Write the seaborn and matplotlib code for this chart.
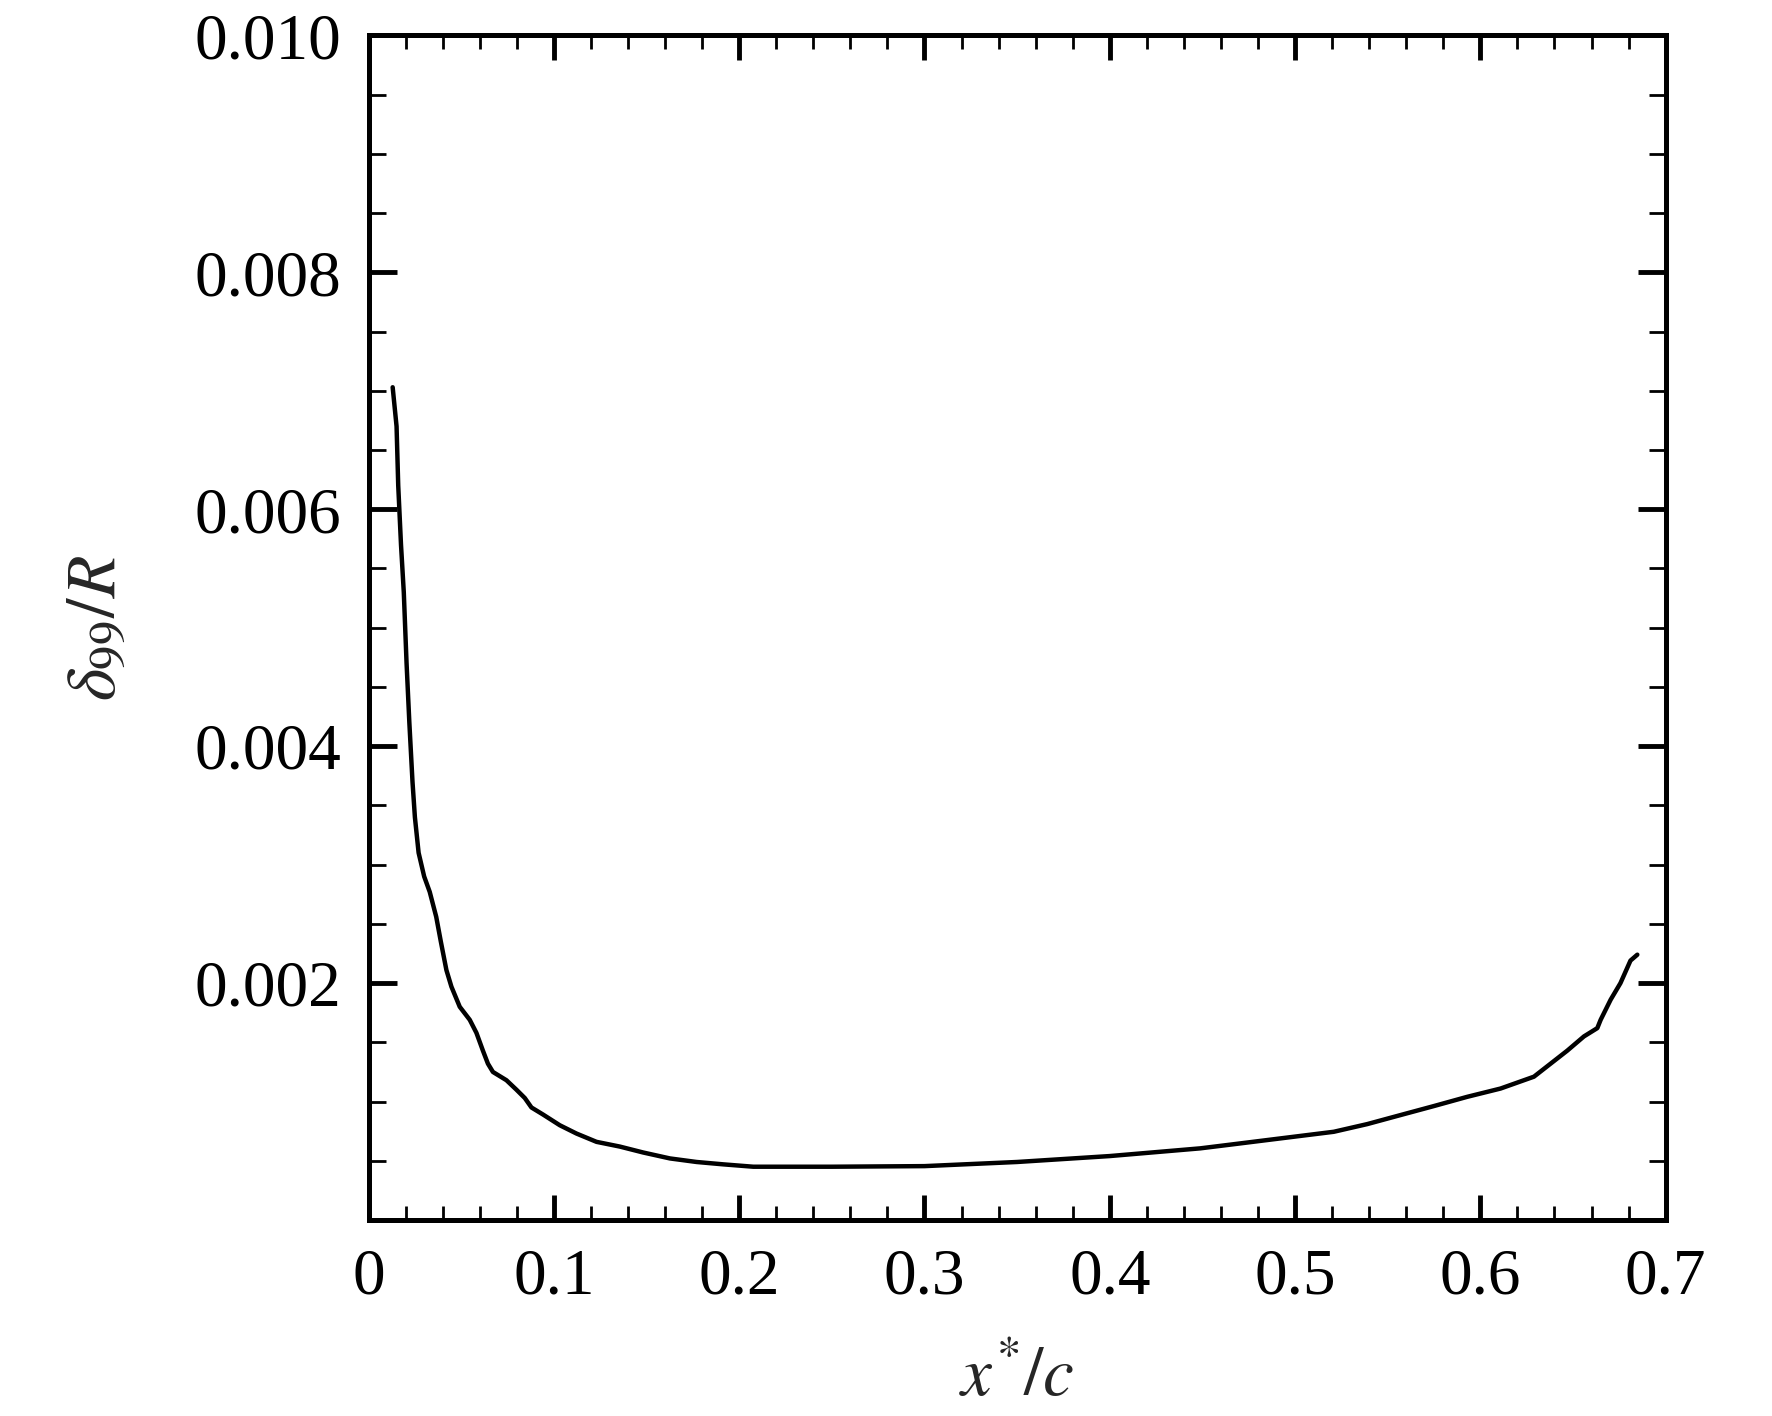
import numpy as np
import pandas as pd
import matplotlib
matplotlib.use("Agg")
import matplotlib.pyplot as plt
import seaborn as sns
from matplotlib.ticker import MultipleLocator, FuncFormatter

# dados (espessura da camada limite ao longo da corda)
x_c = [0.0130, 0.0151, 0.0160, 0.0175, 0.0190, 0.0205, 0.0220, 0.0237,
       0.0250, 0.0270, 0.0300, 0.0330, 0.0365, 0.0390, 0.0420, 0.0447,
       0.0492, 0.0546, 0.0582, 0.0617, 0.0644, 0.0671, 0.0744, 0.0798,
       0.0843, 0.0879, 0.0942, 0.1032, 0.1122, 0.1230, 0.1356, 0.1482,
       0.1626, 0.1770, 0.1914, 0.2076, 0.2500, 0.3000, 0.3500, 0.4000,
       0.4488, 0.4633, 0.4849, 0.5029, 0.5209, 0.5390, 0.5569, 0.5749,
       0.5929, 0.6109, 0.6289, 0.6379, 0.6469, 0.6559, 0.6631, 0.6649,
       0.6703, 0.6756, 0.6810, 0.6847]
delta99_R = [0.00703, 0.00670, 0.00620, 0.00570, 0.00530, 0.00470, 0.00420, 0.00370,
             0.00340, 0.00310, 0.00290, 0.00277, 0.00256, 0.00235, 0.00211, 0.00197,
             0.00180, 0.00169, 0.00158, 0.00143, 0.00132, 0.00125, 0.00118, 0.00110,
             0.00103, 0.00095, 0.00089, 0.00080, 0.00073, 0.00066, 0.00062, 0.00057,
             0.00052, 0.00049, 0.00047, 0.00045, 0.00045, 0.000455, 0.00049, 0.00054,
             0.000605, 0.000633, 0.000675, 0.00071, 0.000745, 0.00081, 0.000886, 0.000962,
             0.00104, 0.00111, 0.00121, 0.00132, 0.00143, 0.00155, 0.00162, 0.00169,
             0.00186, 0.00200, 0.00219, 0.00224]

sns.set_theme(style="ticks")
plt.rcParams['font.family'] = ['Liberation Serif', 'DejaVu Serif']
plt.rcParams['mathtext.fontset'] = 'stix'

df = pd.DataFrame({'x': x_c, 'd': delta99_R})

fig = plt.figure(figsize=(17.72, 14.16), dpi=100)
ax = fig.add_axes([0.208, 0.1384, 0.732, 0.8366])
sns.lineplot(data=df, x='x', y='d', sort=False, estimator=None,
             color='black', linewidth=3.2, ax=ax)

ax.set_xlim(0, 0.7)
ax.set_ylim(0, 0.010)
ax.xaxis.set_major_locator(MultipleLocator(0.1))
ax.xaxis.set_minor_locator(MultipleLocator(0.02))
ax.set_yticks([0.002, 0.004, 0.006, 0.008, 0.010])
ax.yaxis.set_minor_locator(MultipleLocator(0.0005))
ax.xaxis.set_major_formatter(FuncFormatter(lambda v, p: '0' if abs(v) < 1e-9 else f'{v:.1f}'))
ax.yaxis.set_major_formatter(FuncFormatter(lambda v, p: f'{v:.3f}'))

for s in ax.spines.values():
    s.set_linewidth(3.6)
    s.set_color('black')

ax.tick_params(which='both', direction='in', top=True, right=True, colors='black')
ax.tick_params(which='major', width=3.5, labelsize=47, pad=20)
ax.tick_params(which='minor', width=2)
ax.tick_params(axis='y', which='major', length=20)
ax.tick_params(axis='y', which='minor', length=12)
ax.tick_params(axis='x', which='major', length=18)
ax.tick_params(axis='x', which='minor', length=10)

ax.set_xlabel(r'$x^{*}/c$', fontsize=50, labelpad=29)
ax.set_ylabel(r'$\delta_{99}/R$', fontsize=50, labelpad=46)

fig.savefig('out.png', dpi=100, facecolor='white')
